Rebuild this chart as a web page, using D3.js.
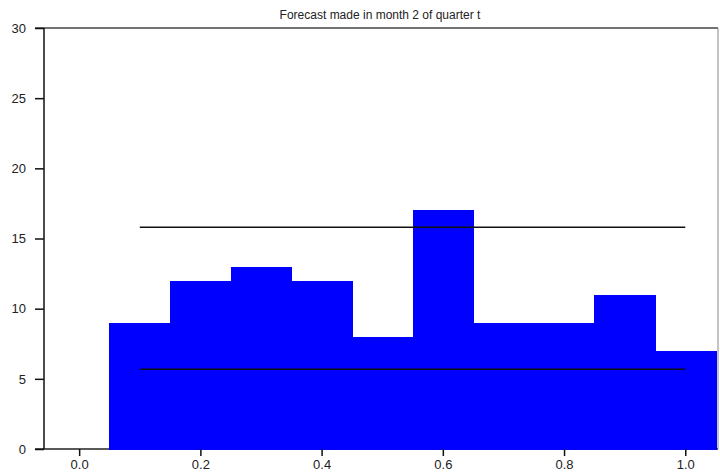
<!DOCTYPE html>
<html>
<head>
<meta charset="utf-8">
<script src="https://cdn.jsdelivr.net/npm/d3@7"></script>
<style>
  body { margin: 0; background: #fff; }
  svg { display: block; font-family: "Liberation Sans", Arial, sans-serif; }
</style>
</head>
<body>
<svg id="chart" width="720" height="476"></svg>
<script>
// histogram bins (left edge, right edge) and counts
const binStart = [0.05, 0.15, 0.25, 0.35, 0.45, 0.55, 0.65, 0.75, 0.85, 0.95];
const binEnd   = [0.15, 0.25, 0.35, 0.45, 0.55, 0.65, 0.75, 0.85, 0.95, 1.05];
const counts   = [9, 12, 13, 12, 8, 17, 9, 9, 11, 7];

// confidence bands
const bandLevels = [15.8, 5.68];
const bandRange = [0.1, 1.0];

const xTicks = [0.0, 0.2, 0.4, 0.6, 0.8, 1.0];
const yTicks = [0, 5, 10, 15, 20, 25, 30];
const title = 'Forecast made in month 2 of quarter t';

const svg = d3.select('#chart');
const plot = { left: 44, right: 718, top: 28, bottom: 449 };

const x = d3.scaleLinear().domain([-0.058, 1.054]).range([plot.left, plot.right]);
const y = d3.scaleLinear().domain([0, 30]).range([plot.bottom, plot.top]);

const bins = counts.map((c, i) => ({ x0: binStart[i], x1: binEnd[i], n: c }));

// frame top + right
svg.append('line')
    .attr('x1', 35).attr('x2', plot.right).attr('y1', plot.top).attr('y2', plot.top)
    .attr('stroke', '#444').attr('stroke-width', 1.5);
svg.append('line')
    .attr('x1', plot.right).attr('x2', plot.right).attr('y1', plot.top).attr('y2', plot.bottom)
    .attr('stroke', '#888').attr('stroke-width', 1);

// bottom baseline
svg.append('line')
    .attr('x1', 35).attr('x2', plot.right).attr('y1', plot.bottom).attr('y2', plot.bottom)
    .attr('stroke', '#222').attr('stroke-width', 1.5);

// bars (crisp edges so neighbouring bins join without seams)
svg.append('g')
    .attr('shape-rendering', 'crispEdges')
    .selectAll('rect')
    .data(bins)
    .join('rect')
    .attr('x', d => Math.round(x(d.x0)))
    .attr('width', d => Math.round(Math.min(x(d.x1), plot.right - 1)) - Math.round(x(d.x0)) + 1)
    .attr('y', d => Math.round(y(d.n)))
    .attr('height', d => plot.bottom + 1 - Math.round(y(d.n)))
    .attr('fill', '#0000ff');

// horizontal band lines
svg.append('g')
    .selectAll('line')
    .data(bandLevels)
    .join('line')
    .attr('x1', x(bandRange[0]))
    .attr('x2', x(bandRange[1]))
    .attr('y1', d => y(d))
    .attr('y2', d => y(d))
    .attr('stroke', '#111')
    .attr('stroke-width', 1.5);

// y axis
const yAxis = d3.axisLeft(y).tickValues(yTicks).tickSize(9).tickPadding(9).tickFormat(d3.format('d'));
const gy = svg.append('g')
    .attr('transform', `translate(${plot.left},0)`)
    .call(yAxis);
gy.select('.domain').attr('stroke', '#111').attr('stroke-width', 1.5).attr('d', `M0,${plot.top}V${plot.bottom}`);
gy.selectAll('.tick line').attr('stroke', '#111').attr('stroke-width', 1.5);
gy.selectAll('.tick text').attr('fill', '#222').attr('font-size', 13);

// x axis
const xAxis = d3.axisBottom(x).tickValues(xTicks).tickSize(7).tickPadding(4).tickFormat(d3.format('.1f'));
const gx = svg.append('g')
    .attr('transform', `translate(0,${plot.bottom})`)
    .call(xAxis);
gx.select('.domain').remove();
gx.selectAll('.tick line').attr('stroke', '#111').attr('stroke-width', 1.5);
gx.selectAll('.tick text').attr('fill', '#222').attr('font-size', 13);

// title
svg.append('text')
    .attr('x', 380)
    .attr('y', 19)
    .attr('text-anchor', 'middle')
    .attr('font-size', 12)
    .attr('fill', '#222')
    .text(title);
</script>
</body>
</html>
